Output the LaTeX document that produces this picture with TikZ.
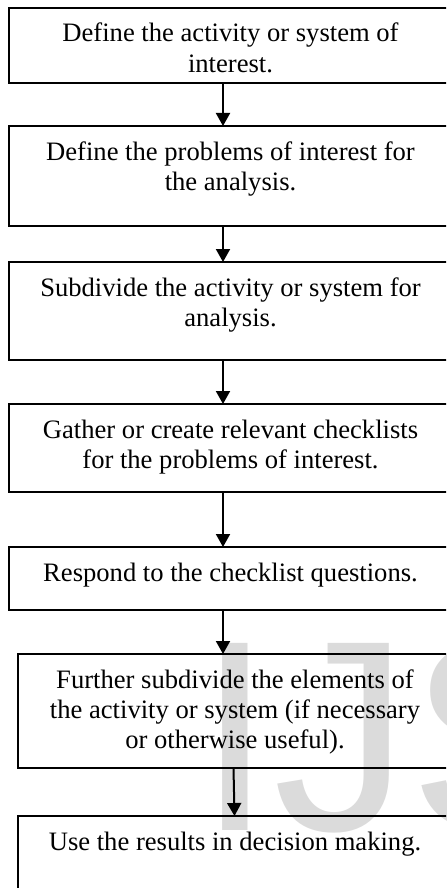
\documentclass[tikz,border=0pt]{standalone}
\usepackage{fontspec}
\setmainfont{Liberation Serif}
\newfontfamily\marksans{Liberation Sans}
\usetikzlibrary{arrows.meta}

\tikzset{
  stepbox/.style={draw, line width=1pt, inner sep=0pt, outer sep=0pt, minimum width=221.5pt},
  steptext/.style={anchor=base, text width=212pt, align=flush center, inner sep=0pt,
    font=\fontsize{13.3}{15.2}\selectfont},
  steparrow/.style={line width=1pt, -{Triangle[length=6.5pt,width=7pt]}}
}

\begin{document}
\begin{tikzpicture}[x=0.5pt,y=-0.5pt]
\clip (0,0) rectangle (446,888);

% watermark behind the chart
\node[anchor=base west, inner sep=0pt, text=black!14, font=\marksans\fontsize{136}{136}\selectfont] (mark) at (197,830) {IJS};

% boxes
\node[stepbox, minimum height=37.5pt] (b1) at (230.5,45.5) {};
\node[stepbox, minimum height=50pt] (b2) at (230.5,176) {};
\node[stepbox, minimum height=49pt] (b3) at (230.5,311) {};
\node[stepbox, minimum height=44pt] (b4) at (230.5,448) {};
\node[stepbox, minimum height=31.5pt] (b5) at (230.5,578.5) {};
\node[stepbox, minimum height=57pt, minimum width=217pt] (b6) at (235,711) {};
\node[stepbox, minimum height=42pt, minimum width=217pt] (b7) at (235,858) {};

% texts
\node[steptext] (t1) at (230.5,42) {Define the activity or system of\\ interest.};
\node[steptext] (t2) at (230.5,160) {Define the problems of interest for\\ the analysis.};
\node[steptext] (t3) at (230.5,296) {Subdivide the activity or system for\\ analysis.};
\node[steptext] (t4) at (230.5,438) {Gather or create relevant checklists\\ for the problems of interest.};
\node[steptext] (t5) at (230.5,581) {Respond to the checklist questions.};
\node[steptext] (t6) at (235,688) {Further subdivide the elements of\\ the activity or system (if necessary\\ or otherwise useful).};
\node[steptext] (t7) at (235,850) {Use the results in decision making.};

% arrows
\draw[steparrow] ([xshift=-3.75pt]b1.south) -- ([xshift=-3.75pt]b2.north);
\draw[steparrow] ([xshift=-3.75pt]b2.south) -- ([xshift=-3.75pt]b3.north);
\draw[steparrow] ([xshift=-3.75pt]b3.south) -- ([xshift=-3.75pt]b4.north);
\draw[steparrow] ([xshift=-3.75pt]b4.south) -- ([xshift=-3.75pt]b5.north);
\draw[steparrow] ([xshift=-3.75pt]b5.south) -- ([xshift=-6pt]b6.north);
\draw[steparrow] ([xshift=-0.75pt]b6.south) -- ([xshift=-0.25pt]b7.north);
\end{tikzpicture}
\end{document}
